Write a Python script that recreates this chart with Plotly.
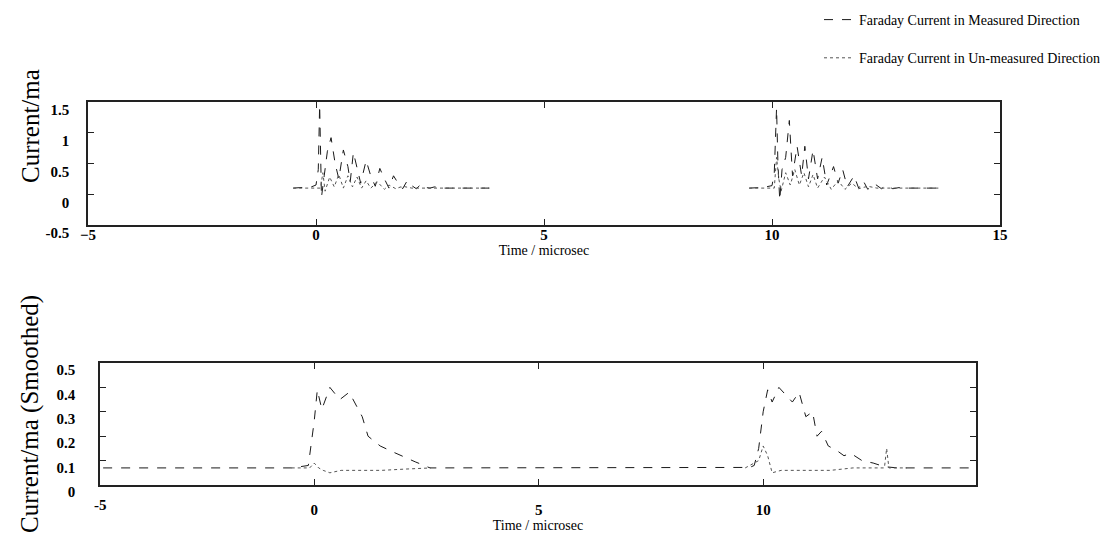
import plotly.graph_objects as go

# ---------------- data ----------------
# Top panel: raw Faraday current (mA) vs time (microsec)
top_meas_t = [-0.5, -0.3, -0.1, 0.0, 0.05, 0.08, 0.1, 0.12, 0.18, 0.25, 0.33, 0.42, 0.5, 0.6, 0.7,
              0.75, 0.82, 0.9, 0.98, 1.1, 1.2, 1.3, 1.4, 1.5, 1.6, 1.7, 1.8, 1.9, 2.0, 2.1, 2.2,
              2.3, 2.4, 2.5, 2.6, 2.8, 3.0, 3.3, 3.6, 3.8, None,
              9.5, 9.8, 10.0, 10.05, 10.1, 10.13, 10.17, 10.22, 10.3, 10.38, 10.45, 10.55, 10.65,
              10.72, 10.8, 10.9, 11.0, 11.1, 11.2, 11.35, 11.45, 11.55, 11.65, 11.8, 11.9, 12.0,
              12.1, 12.25, 12.4, 12.5, 12.65, 12.8, 13.0, 13.3, 13.7]
top_meas_v = [0.10, 0.11, 0.12, 0.15, 0.40, 1.45, 0.60, -0.05, 0.30, 0.70, 0.92, 0.50, 0.25, 0.72, 0.45,
              0.20, 0.68, 0.45, 0.18, 0.55, 0.30, 0.13, 0.42, 0.25, 0.10, 0.30, 0.18, 0.09, 0.22, 0.14, 0.09,
              0.16, 0.11, 0.10, 0.12, 0.10, 0.10, 0.10, 0.10, 0.10, None,
              0.10, 0.11, 0.14, 0.35, 1.40, 0.50, -0.10, 0.40, 0.60, 1.20, 0.30, 0.78, 0.30,
              0.78, 0.25, 0.72, 0.25, 0.60, 0.15, 0.45, 0.18, 0.40, 0.12, 0.30, 0.10, 0.22,
              0.08, 0.17, 0.09, 0.14, 0.09, 0.11, 0.10, 0.10, 0.10]

top_unmeas_t = [-0.5, -0.2, 0.1, 0.15, 0.2, 0.3, 0.4, 0.5, 0.6, 0.7, 0.8, 0.9, 1.0, 1.1, 1.2,
                1.35, 1.5, 1.6, 1.75, 1.9, 2.1, 2.4, 2.8, 3.3, 3.8, None,
                9.5, 9.8, 10.05, 10.1, 10.15, 10.2, 10.3, 10.4, 10.5, 10.6, 10.7, 10.8, 10.9,
                11.0, 11.15, 11.3, 11.45, 11.6, 11.75, 11.9, 12.1, 12.3, 12.6, 13.0, 13.7]
top_unmeas_v = [0.10, 0.10, 0.10, 0.35, 0.05, 0.28, 0.12, 0.32, 0.10, 0.30, 0.12, 0.28, 0.10, 0.22, 0.10,
                0.20, 0.08, 0.15, 0.09, 0.13, 0.10, 0.10, 0.10, 0.10, 0.10, None,
                0.10, 0.10, 0.10, 0.60, 0.25, 0.05, 0.35, 0.15, 0.40, 0.15, 0.35, 0.12, 0.32,
                0.10, 0.28, 0.08, 0.22, 0.08, 0.18, 0.09, 0.13, 0.10, 0.10, 0.10, 0.10]

# Bottom panel: smoothed current
bot_meas_t = [-4.7, -2.0, -0.5, -0.13, -0.05, 0.0, 0.07, 0.17, 0.35, 0.57, 0.78, 0.9, 1.07, 1.2,
              1.47, 1.76, 2.0, 2.25, 2.58, 3.0, 4.0, 6.0, 8.0, 9.5, 9.7, 9.8, 9.9, 10.0, 10.1,
              10.2, 10.35, 10.5, 10.65, 10.8, 10.95, 11.1, 11.2, 11.3, 11.45, 11.65, 11.8,
              11.95, 12.2, 12.45, 12.7, 13.0, 14.0, 14.7]
bot_meas_v = [0.07, 0.07, 0.07, 0.08, 0.18, 0.26, 0.39, 0.31, 0.40, 0.35, 0.38, 0.34, 0.28, 0.20,
              0.16, 0.135, 0.115, 0.095, 0.07, 0.07, 0.07, 0.07, 0.07, 0.07, 0.072, 0.08, 0.15, 0.30, 0.39,
              0.34, 0.40, 0.37, 0.34, 0.38, 0.28, 0.30, 0.20, 0.22, 0.16, 0.14, 0.12,
              0.13, 0.10, 0.09, 0.075, 0.07, 0.07, 0.07]

bot_unmeas_t = [-0.5, -0.1, 0.0, 0.1, 0.2, 0.35, 0.6, 1.0, 1.5, 2.0, 2.6, None,
                9.6, 9.9, 10.0, 10.1, 10.2, 10.4, 10.6, 11.0, 11.5, 12.0, 12.5, 12.7, 12.75, 12.8, 13.2]
bot_unmeas_v = [0.07, 0.07, 0.09, 0.07, 0.06, 0.05, 0.06, 0.06, 0.06, 0.065, 0.07, None,
                0.07, 0.10, 0.16, 0.12, 0.05, 0.06, 0.06, 0.06, 0.06, 0.07, 0.07, 0.07, 0.15, 0.07, 0.07]

series_names = ["Faraday Current in Measured Direction",
                "Faraday Current in Un-measured Direction"]
top_yticks = [-0.5, 0, 0.5, 1, 1.5]
bot_yticks = [0, 0.1, 0.2, 0.3, 0.4, 0.5]
top_xticks = [-5, 0, 5, 10, 15]
bot_xticks = [0, 5, 10]

# ---------------- figure ----------------
W, H = 1100, 541
SERIF = "Liberation Serif"
INK = "#1a1a1a"

fig = go.Figure()
fig.add_trace(go.Scatter(x=top_meas_t, y=top_meas_v, mode="lines", name=series_names[0],
                         legendgroup="a", line=dict(color=INK, width=1, dash="dash"),
                         xaxis="x", yaxis="y"))
fig.add_trace(go.Scatter(x=top_unmeas_t, y=top_unmeas_v, mode="lines", name=series_names[1],
                         legendgroup="b", line=dict(color="#555", width=1, dash="dot"),
                         xaxis="x", yaxis="y"))
fig.add_trace(go.Scatter(x=bot_meas_t, y=bot_meas_v, mode="lines", showlegend=False,
                         line=dict(color=INK, width=1, dash="dash"), xaxis="x2", yaxis="y2"))
fig.add_trace(go.Scatter(x=bot_unmeas_t, y=bot_unmeas_v, mode="lines", showlegend=False,
                         line=dict(color="#555", width=1, dash="dot"), xaxis="x2", yaxis="y2"))

tickfont = dict(family=SERIF, size=15, color="black", weight="bold")
axis_common = dict(showgrid=False, zeroline=False, showline=True, linecolor="#222",
                   linewidth=1.5, mirror="ticks", ticks="inside", ticklen=6,
                   tickcolor="#222", tickfont=tickfont)

def px(v):
    return v / W

def py(v):
    return 1 - v / H

fig.update_layout(
    width=W, height=H,
    margin=dict(l=0, r=0, t=0, b=0, autoexpand=False),
    paper_bgcolor="white", plot_bgcolor="white",
    showlegend=True,
    legend=dict(x=px(819), y=py(4), xanchor="left", yanchor="top",
                font=dict(family=SERIF, size=14, color="black"),
                tracegroupgap=17, bgcolor="rgba(0,0,0,0)", itemwidth=30),
    xaxis=dict(axis_common, domain=[px(88), px(1000)], range=[-5, 15],
               tickvals=top_xticks, anchor="y", ticklabelstandoff=-5,
               title=dict(text="Time / microsec", font=dict(family=SERIF, size=14, color="black"),
                          standoff=0)),
    yaxis=dict(axis_common, domain=[py(225), py(102)], range=[-0.5, 1.5],
               tickvals=top_yticks, ticktext=["-0.5", "0", "0.5", "1", "1.5"], anchor="x",
               ticklabelstandoff=14, ticklabelshift=8),
    xaxis2=dict(axis_common, domain=[px(100), px(976)], range=[-4.77, 14.74],
                tickvals=bot_xticks, anchor="y2", ticklabelstandoff=10,
                title=dict(text="Time / microsec", font=dict(family=SERIF, size=14, color="black"),
                           standoff=0)),
    yaxis2=dict(axis_common, domain=[py(485), py(363)], range=[0, 0.5],
                tickvals=bot_yticks, ticktext=["0", "0.1", "0.2", "0.3", "0.4", "0.5"],
                anchor="x2", ticklabelstandoff=20, ticklabelshift=7),
    annotations=[
        dict(text="Current/ma", textangle=-90, x=px(30), y=py(126), xref="paper", yref="paper",
             xanchor="center", yanchor="middle",
             showarrow=False, font=dict(family=SERIF, size=25, color="black")),
        dict(text="Current/ma (Smoothed)", textangle=-90, x=px(30), y=py(414), xref="paper",
             yref="paper", xanchor="center", yanchor="middle",
             showarrow=False, font=dict(family=SERIF, size=25, color="black")),
        dict(text="-5", x=-4.77, y=0, xref="x2", yref="y2", yanchor="top", yshift=-10,
             showarrow=False, font=tickfont),
    ],
)

fig.write_html("out.html")
